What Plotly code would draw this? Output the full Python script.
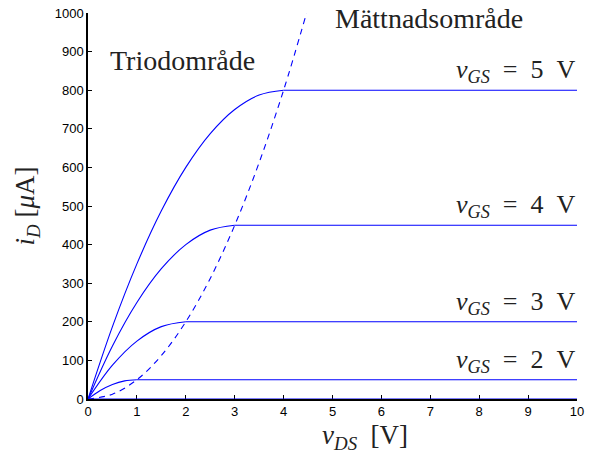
import plotly.graph_objects as go

# Triode-region readings (v_DS in V, i_D in µA)
vds_2 = [0, 0.25, 0.5, 0.75, 1.0]
id_2 = [0, 21.9, 37.5, 46.9, 50]
vds_3 = [0, 0.5, 1.0, 1.5, 2.0]
id_3 = [0, 87.5, 150, 187.5, 200]
vds_4 = [0, 0.5, 1.0, 1.5, 2.0, 2.5, 3.0]
id_4 = [0, 137.5, 250, 337.5, 400, 437.5, 450]
vds_5 = [0, 0.5, 1.0, 1.5, 2.0, 2.5, 3.0, 3.5, 4.0]
id_5 = [0, 187.5, 350, 487.5, 600, 687.5, 750, 787.5, 800]

# Saturation levels
vgs_labels = ["2", "3", "4", "5"]
sat_start = [1.0, 2.0, 3.0, 4.0]
sat_level = [50, 200, 450, 800]
vds_max = 10

# Boundary (dashed)
vds_b = [0, 0.5, 1.0, 1.5, 2.0, 2.5, 3.0, 3.5, 4.0, 4.47]
id_b = [0, 12.5, 50, 112.5, 200, 312.5, 450, 612.5, 800, 1000]

blue = "#0000ff"
fig = go.Figure()

# zero-current line
fig.add_trace(go.Scatter(x=[0, vds_max], y=[0, 0], mode="lines",
                         line=dict(color=blue, width=1.2), hoverinfo="skip"))

for xs, ys in [(vds_2, id_2), (vds_3, id_3), (vds_4, id_4), (vds_5, id_5)]:
    fig.add_trace(go.Scatter(x=xs, y=ys, mode="lines", line_shape="spline",
                             line=dict(color=blue, width=1.1), hoverinfo="skip"))

for s, lv in zip(sat_start, sat_level):
    fig.add_trace(go.Scatter(x=[s, vds_max], y=[lv, lv], mode="lines",
                             line=dict(color=blue, width=1.1), hoverinfo="skip"))

fig.add_trace(go.Scatter(x=vds_b, y=id_b, mode="lines", line_shape="spline",
                         line=dict(color=blue, width=1.1, dash="6px,5px"),
                         hoverinfo="skip"))

serif = "Liberation Serif"
nb = "\u00a0"
for lab, lv in zip(vgs_labels, sat_level):
    fig.add_annotation(x=vds_max, y=lv, xref="x", yref="y",
                       text=f"<i>v</i><sub><i>GS</i></sub>{nb}{nb}={nb}{nb}{lab}{nb}{nb}V",
                       showarrow=False, xanchor="right", yanchor="bottom",
                       yshift=1, font=dict(family=serif, size=26, color="#222"))

fig.add_annotation(x=1.94, y=876, text="Triodområde", showarrow=False,
                   font=dict(family=serif, size=28, color="#222"))
fig.add_annotation(x=6.98, y=985, text="Mättnadsområde", showarrow=False,
                   font=dict(family=serif, size=28, color="#222"))

# x-axis title (placed as in the reference, slightly right of centre)
fig.add_annotation(x=0.566, y=-0.098, xref="paper", yref="paper",
                   text=f"<i>v</i><sub><i>DS</i></sub>{nb}{nb}[V]",
                   showarrow=False, xanchor="center", yanchor="middle",
                   font=dict(family=serif, size=27, color="#222"))

fig.update_layout(
    width=591, height=453,
    margin=dict(l=88, r=14, t=13, b=54, autoexpand=False),
    plot_bgcolor="white", paper_bgcolor="white",
    showlegend=False,
    font=dict(family="Liberation Sans", size=13, color="black"),
)
fig.update_xaxes(range=[0, 10], dtick=1, showgrid=False, zeroline=False,
                 showline=True, linecolor="black", linewidth=1.5,
                 ticks="inside", ticklen=4, tickcolor="black",
                 layer="below traces", automargin=False,
                 ticklabeloverflow="allow")
fig.update_yaxes(range=[0, 1000], dtick=100, showgrid=False, zeroline=False,
                 showline=True, linecolor="black", linewidth=1.5,
                 ticks="inside", ticklen=4, tickcolor="black",
                 layer="below traces", automargin=False,
                 ticklabeloverflow="allow",
                 title=dict(text=f"<i>i</i><sub><i>D</i></sub>{nb}[<i>μ</i>A]",
                            font=dict(family=serif, size=27, color="#222"),
                            standoff=12))

fig.write_html("out.html", config={"displayModeBar": False},
               post_script="document.body.style.margin='0';")
